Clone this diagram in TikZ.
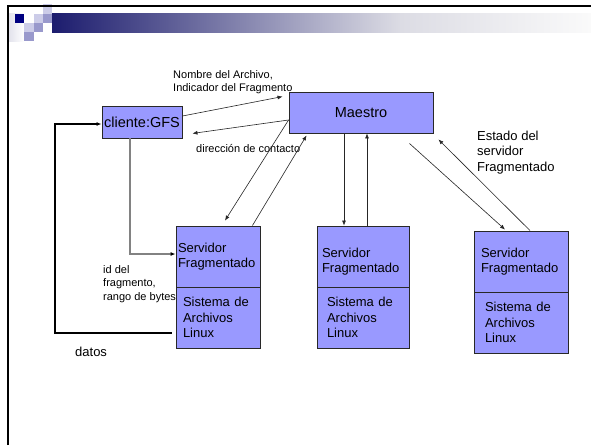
\documentclass[tikz,border=0pt]{standalone}
\usepackage{fontspec}
\setmainfont{Liberation Sans}
\usepackage{xcolor}
\definecolor{gfsblue}{RGB}{153,153,255}
\definecolor{gfsnavy}{RGB}{0,0,128}
\definecolor{gfsdark}{RGB}{28,28,110}
\definecolor{gfslite}{RGB}{204,204,232}
\definecolor{gfsmid}{RGB}{153,153,204}
\definecolor{gfsfade}{RGB}{220,220,228}
\definecolor{gfspale}{RGB}{250,250,250}
\definecolor{gfsline}{RGB}{40,40,40}
\definecolor{gfsgrey}{RGB}{130,130,130}
\usepackage{tikz}
\usetikzlibrary{arrows.meta}
\newcommand{\fs}[2]{\fontsize{#1}{#2}\selectfont}
\tikzset{
  blk/.style={draw=gfsline, fill=gfsblue, line width=0.9pt, inner sep=0pt, font=\fs{14.5}{17}},
  srv/.style={draw=gfsline, fill=gfsblue, line width=0.9pt, minimum height=61pt, inner ysep=0pt, align=left, font=\fs{13}{15.5}},
  arr/.style={-{Latex[length=5pt,width=4pt]}, line width=0.6pt, draw=black!85},
  lbl/.style={anchor=north west, inner sep=0pt, align=left, font=\fs{11}{13}}
}

\begin{document}
\begin{tikzpicture}[x=1pt,y=-1pt]
  \fill[white] (0,0) rectangle (591,445);
  \useasboundingbox (0,0) rectangle (591,445);
  % slide header
  \shade[left color={rgb,255:red,225;green,225;blue,235}, right color=white] (8,13.5) rectangle (24.25,41);
  \shade[left color=gfsdark, right color=gfsfade] (52,13.5) rectangle (400,32);
  \shade[left color=gfsfade, right color=gfspale] (400,13.5) rectangle (591,32);
  \fill[gfsnavy] (15,13.5) rectangle (24.25,22.75);
  \fill[gfslite] (33.5,13.5) rectangle (42.75,22.75);
  \fill[gfslite] (42.75,4.25) rectangle (52,13.5);
  \fill[gfslite] (24.25,22.75) rectangle (33.5,32);
  \fill[gfsmid] (42.75,13.5) rectangle (52,22.75);
  \fill[gfsmid] (33.5,22.75) rectangle (42.75,32);
  \fill[gfsmid] (24.25,32) rectangle (33.5,41.25);
  \draw[line width=2.5pt] (8,445) -- (8,6) -- (591,6);

  % boxes
  \node[blk, minimum width=80pt, minimum height=32pt] (cli) at (142,122) {cliente:GFS};
  \node[blk, minimum width=144pt, minimum height=41pt] (mae) at (361,112.5) {Maestro};
  \node[srv, text width=80pt, inner xsep=2pt] (srv1) at (218,256.5) {Servidor\\Fragmentado};
  \node[srv, text width=70pt, inner xsep=7pt] (fs1) at (218,317.5) {Sistema de\\Archivos\\Linux};
  \node[srv, text width=82pt, inner xsep=5pt] (srv2) at (363,256.5) {\rule{0pt}{19.5pt}Servidor\\Fragmentado};
  \node[srv, text width=72pt, inner xsep=10pt] (fs2) at (363,317.5) {Sistema de\\Archivos\\Linux};
  \node[srv, text width=80pt, inner xsep=7pt] (srv3) at (521,261.5) {Servidor\\Fragmentado};
  \node[srv, text width=72pt, inner xsep=11pt] (fs3) at (521,322.5) {Sistema de\\Archivos\\Linux};

  % labels
  \node[lbl, font=\fs{11}{12.7}] (lnom) at (173,70.3) {Nombre del Archivo,\\Indicador del Fragmento};
  \node[lbl] (ldir) at (196,144) {dirección de contacto};
  \node[lbl, font=\fs{13}{15.8}] (lest) at (477,130.5) {Estado del\\servidor\\Fragmentado};
  \node[lbl, font=\fs{11}{13.4}] (lid) at (103,265.3) {id del\\fragmento,\\rango de bytes};
  \node[lbl, font=\fs{13}{15.5}] (ldat) at (75,346.5) {datos};

  % connectors
  \draw[arr] ([yshift=6pt]cli.east) -- ([xshift=-6pt,yshift=-5pt]mae.north west);
  \draw[arr] ([yshift=-7.5pt]mae.west) -- ([xshift=10pt,yshift=5pt]cli.south east);
  \draw[arr] ([yshift=-7.5pt]mae.west) -- ([xshift=7pt,yshift=5pt]srv1.north);
  \draw[arr] ([xshift=-8pt]srv1.north east) -- ([xshift=18pt,yshift=-2pt]mae.south west);
  \draw[arr] ([xshift=-17pt]mae.south) -- ([xshift=-19pt]srv2.north);
  \draw[arr] ([xshift=4pt]srv2.north) -- ([xshift=6pt]mae.south);
  \draw[arr] ([xshift=-24pt,yshift=-10pt]mae.south east) -- ([xshift=-16pt,yshift=1pt]srv3.north);
  \draw[arr] ([xshift=9pt]srv3.north) -- ([xshift=5pt,yshift=-6pt]mae.south east);
  \draw[arr, -{Latex[length=5pt,width=4pt,color=black]}, draw=gfsgrey, line width=1.3pt] ([xshift=-12pt]cli.south) |- ([yshift=2.5pt]srv1.west);
  \coordinate (dl) at (55,240);
  \draw[arr, draw=black, line width=2.2pt] ([xshift=-4pt,yshift=-15.5pt]fs1.west) -| (dl) |- ([yshift=-2pt]cli.west);
\end{tikzpicture}
\end{document}
